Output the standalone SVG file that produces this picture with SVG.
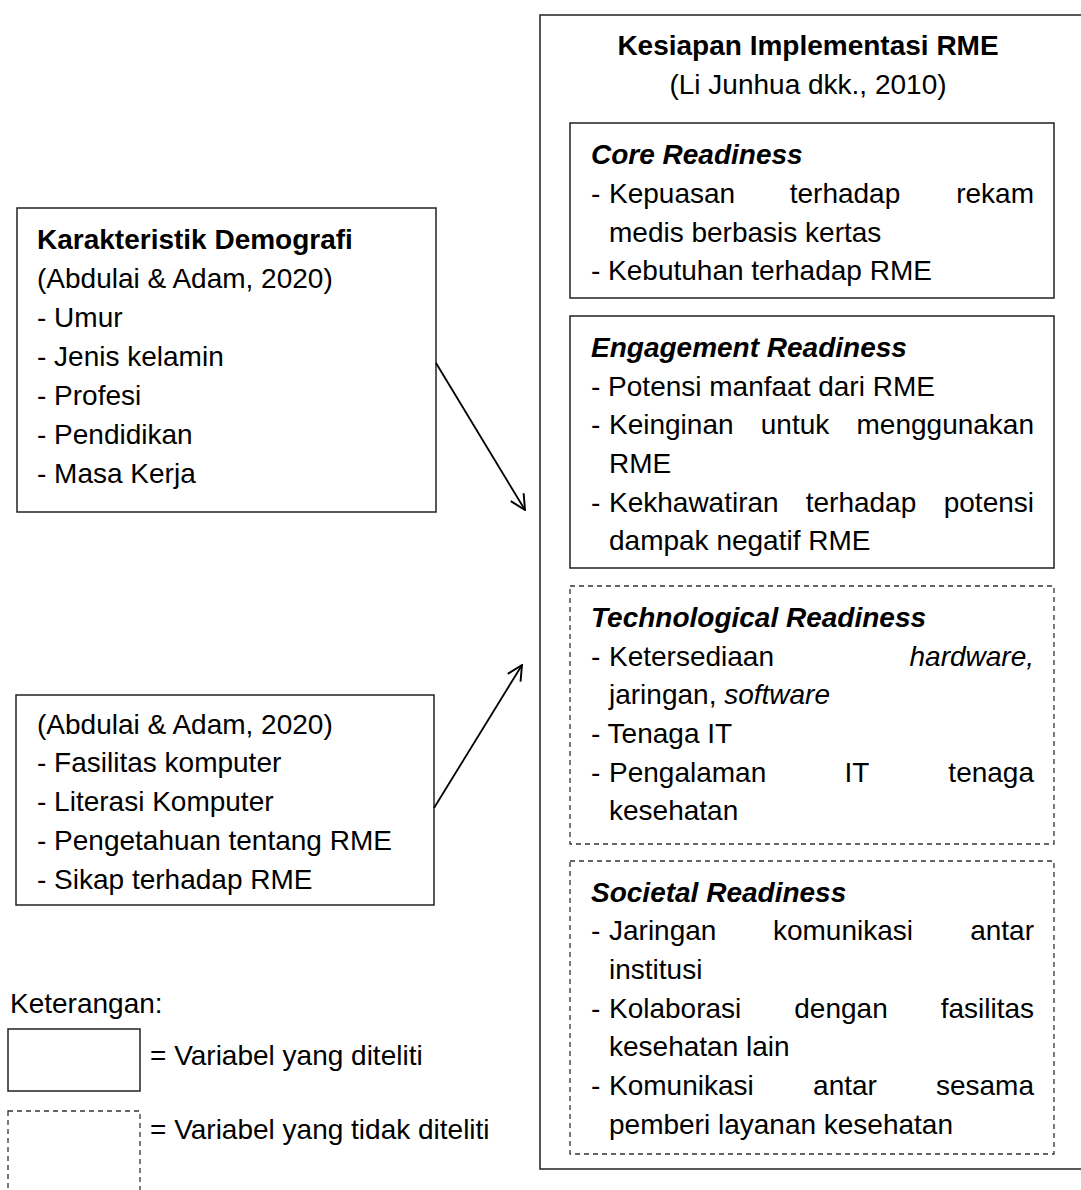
<svg xmlns="http://www.w3.org/2000/svg" width="1081" height="1190" viewBox="0 0 1081 1190">
<style>
text{font-family:"Liberation Sans",Arial,sans-serif;font-size:28px;fill:#000}
.b{font-weight:bold}
.bi{font-weight:bold;font-style:italic}
.i{font-style:italic}
.solid{fill:#fff;stroke:#222;stroke-width:1.5}
.dash{fill:#fff;stroke:#333;stroke-width:1.3;stroke-dasharray:5 4}
.conn{stroke:#000;stroke-width:1.8;fill:none}
</style>
<defs>
<marker id="arr" viewBox="0 0 12 12" refX="11" refY="6" markerWidth="18" markerHeight="18" markerUnits="userSpaceOnUse" orient="auto">
<path d="M1,1 L11,6 L1,11" fill="none" stroke="#000" stroke-width="1.3"/>
</marker>
</defs>
<rect width="1081" height="1190" fill="#fff"/>

<g id="kesiapan">
<rect class="solid" x="540" y="15" width="545" height="1154"/>
<text class="b" x="808" y="55" text-anchor="middle">Kesiapan Implementasi RME</text>
<text x="808" y="94" text-anchor="middle">(Li Junhua dkk., 2010)</text>
</g>

<g id="core">
<rect class="solid" x="570" y="123" width="484" height="175"/>
<text class="bi" x="591" y="164">Core Readiness</text>
<text x="591" y="203">-</text><text x="609" y="203">Kepuasan</text><text x="845" y="203" text-anchor="middle">terhadap</text><text x="1034" y="203" text-anchor="end">rekam</text>
<text x="609" y="242">medis berbasis kertas</text>
<text x="591" y="280">- Kebutuhan terhadap RME</text>
</g>

<g id="engagement">
<rect class="solid" x="570" y="316" width="484" height="252"/>
<text class="bi" x="591" y="357">Engagement Readiness</text>
<text x="591" y="396">- Potensi manfaat dari RME</text>
<text x="591" y="434">-</text><text x="609" y="434">Keinginan</text><text x="795" y="434" text-anchor="middle">untuk</text><text x="1034" y="434" text-anchor="end">menggunakan</text>
<text x="609" y="473">RME</text>
<text x="591" y="512">-</text><text x="609" y="512">Kekhawatiran</text><text x="861" y="512" text-anchor="middle">terhadap</text><text x="1034" y="512" text-anchor="end">potensi</text>
<text x="609" y="550">dampak negatif RME</text>
</g>

<g id="technological">
<rect class="dash" x="570" y="586" width="484" height="258"/>
<text class="bi" x="591" y="627">Technological Readiness</text>
<text x="591" y="666">-</text><text x="609" y="666">Ketersediaan</text><text class="i" x="1034" y="666" text-anchor="end">hardware,</text>
<text x="609" y="704">jaringan, <tspan class="i">software</tspan></text>
<text x="591" y="743">- Tenaga IT</text>
<text x="591" y="782">-</text><text x="609" y="782">Pengalaman</text><text x="857" y="782" text-anchor="middle">IT</text><text x="1034" y="782" text-anchor="end">tenaga</text>
<text x="609" y="820">kesehatan</text>
</g>

<g id="societal">
<rect class="dash" x="570" y="861" width="484" height="293"/>
<text class="bi" x="591" y="902">Societal Readiness</text>
<text x="591" y="940">-</text><text x="609" y="940">Jaringan</text><text x="843" y="940" text-anchor="middle">komunikasi</text><text x="1034" y="940" text-anchor="end">antar</text>
<text x="609" y="979">institusi</text>
<text x="591" y="1018">-</text><text x="609" y="1018">Kolaborasi</text><text x="841" y="1018" text-anchor="middle">dengan</text><text x="1034" y="1018" text-anchor="end">fasilitas</text>
<text x="609" y="1056">kesehatan lain</text>
<text x="591" y="1095">-</text><text x="609" y="1095">Komunikasi</text><text x="845" y="1095" text-anchor="middle">antar</text><text x="1034" y="1095" text-anchor="end">sesama</text>
<text x="609" y="1134">pemberi layanan kesehatan</text>
</g>

<g id="demografi">
<rect class="solid" x="17" y="208" width="419" height="304"/>
<text class="b" x="37" y="249">Karakteristik Demografi</text>
<text x="37" y="288">(Abdulai &amp; Adam, 2020)</text>
<text x="37" y="327">- Umur</text>
<text x="37" y="366">- Jenis kelamin</text>
<text x="37" y="405">- Profesi</text>
<text x="37" y="444">- Pendidikan</text>
<text x="37" y="483">- Masa Kerja</text>
</g>

<g id="komputer">
<rect class="solid" x="16" y="695" width="418" height="210"/>
<text x="37" y="734">(Abdulai &amp; Adam, 2020)</text>
<text x="37" y="772">- Fasilitas komputer</text>
<text x="37" y="811">- Literasi Komputer</text>
<text x="37" y="850">- Pengetahuan tentang RME</text>
<text x="37" y="889">- Sikap terhadap RME</text>
</g>

<g id="connectors">
<line class="conn" x1="436" y1="363" x2="525" y2="510" marker-end="url(#arr)"/>
<line class="conn" x1="434" y1="808" x2="522" y2="665" marker-end="url(#arr)"/>
</g>

<g id="legend">
<text x="10" y="1013">Keterangan:</text>
<rect class="solid" x="8" y="1029" width="132" height="62"/>
<text x="150" y="1065">= Variabel yang diteliti</text>
<rect class="dash" x="8" y="1111" width="132" height="100"/>
<text x="150" y="1139">= Variabel yang tidak diteliti</text>
</g>
</svg>
